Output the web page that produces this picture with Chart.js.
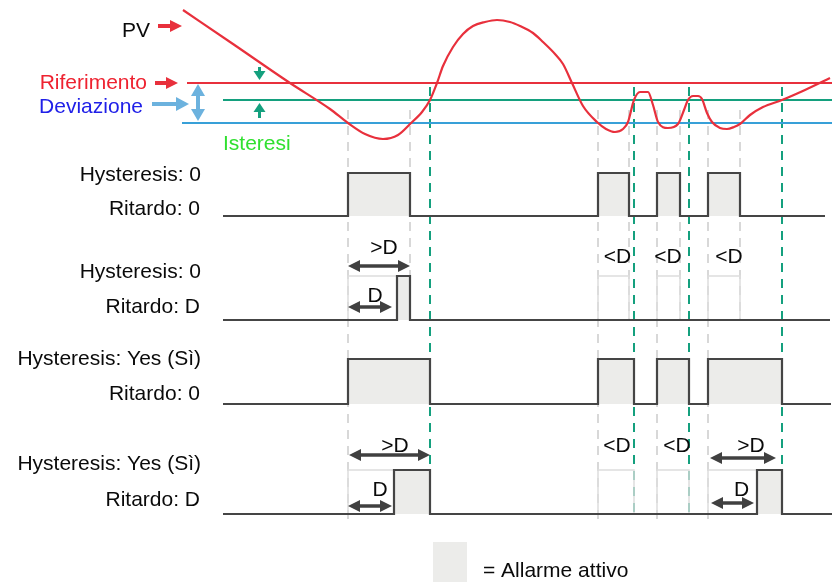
<!DOCTYPE html>
<html><head><meta charset="utf-8">
<script src="https://cdn.jsdelivr.net/npm/chart.js@4.4.1/dist/chart.umd.min.js"></script>
<style>html,body{margin:0;padding:0;background:#fff}#wrap{width:832px;height:582px;position:relative}</style>
</head><body><div id="wrap"><canvas id="c"></canvas></div>
<script>
// ---------- DATA ----------
// Process value PV (time, value)
const pvTime = [183,233,290,330,348,365,383,398,410,422,430,437,443,453,463,473,485,497,510,520,533,543,555,563,572,583,597,606,615,623,628,634,640,648,653,658,668,678,684,688,693,698,702,707,712,720,727,734,740,750,763,782,805,830];
const pvValue = [136.5,119.5,100,87,80,74.5,72,74,79.5,85.5,91.5,100,108.5,118,124.5,128.5,130.5,131.5,130.5,128.5,125,120.5,114.5,109.5,100,88.5,80.5,77,75.5,77,80.5,91.5,95.5,95.5,89,80.5,77.5,79.5,86.5,91.5,93.5,93.5,92,85,80.5,77.5,77,78,79.5,84,88,91.5,96.5,102.5];
const setpoint = 100;      // Riferimento
const deviation = 20;      // Deviazione  -> alarm threshold
const hysteresis = 11.5;   // Isteresi    -> reset threshold
// Alarm output rows: [time, state]
const rowLabels = [["Hysteresis: 0","Ritardo: 0"],["Hysteresis: 0","Ritardo: D"],["Hysteresis: Yes (Sì)","Ritardo: 0"],["Hysteresis: Yes (Sì)","Ritardo: D"]];
const alarm1 = [[223,0],[348,1],[410,0],[598,1],[629,0],[657,1],[680,0],[708,1],[740,0],[825,0]];
const alarm2 = [[223,0],[397,1],[410,0],[830,0]];
const alarm3 = [[223,0],[348,1],[430,0],[598,1],[634,0],[657,1],[689,0],[708,1],[782,0],[831,0]];
const alarm4 = [[223,0],[394,1],[430,0],[757,1],[782,0],[832,0]];
// Condition intervals not long enough to trigger delayed alarm (ghost)
const ghost2 = [[348,397],[598,629],[657,680],[708,740]];
const ghost4 = [[348,394],[598,634],[657,689],[708,757]];
// Event times
const tAlarmOn = [348,598,657,708];
const tAlarmOffNoHyst = [410,629,680,740];
const tAlarmOffHyst = [430,634,689,782];
// Delay labels: [text, time, row]
const delayLabels = [[">D",384,2],["D",375,2],["<D",617.5,2],["<D",668,2],["<D",729,2],[">D",395,4],["D",380,4],["<D",617,4],["<D",677,4],[">D",751,4],["D",741.5,4]];
const legendText = "= Allarme attivo";

// ---------- LAYOUT ----------
const rowBase = [216,320,404,514];
const rowHigh = [173,276,359,470];
const RED='#e8303c', GREEN='#14a07e', BLUE='#38a0d8', LBLUE='#6cb2de', SIG='#454545', FILL='#ececea', GHOST='#dddddd', GDASH='#d8d8d8';

function sigData(seq, r){ return seq.map(([t,s]) => ({x:t, y: rowBase[r] - s*(rowBase[r]-rowHigh[r])})); }
function ghostData(iv, r){ const out=[]; iv.forEach(([a,b])=>{ out.push({x:a,y:rowBase[r]},{x:a,y:rowHigh[r]},{x:b,y:rowHigh[r]},{x:b,y:rowBase[r]},{x:b,y:null}); }); return out; }
function vData(ts, y0, y1){ const out=[]; ts.forEach(t=>{ out.push({x:t,y:y0},{x:t,y:y1},{x:t,y:null}); }); return out; }

const alarms = [alarm1,alarm2,alarm3,alarm4];
const datasets = [];
// PV
datasets.push({data: pvTime.map((t,i)=>({x:t,y:pvValue[i]})), yAxisID:'pv', borderColor:RED, borderWidth:2.2, cubicInterpolationMode:'monotone', pointRadius:0, order:0});
// thresholds
datasets.push({data:[{x:187,y:setpoint},{x:832,y:setpoint}], yAxisID:'pv', borderColor:RED, borderWidth:2, pointRadius:0, order:2});
datasets.push({data:[{x:223,y:setpoint-deviation+hysteresis},{x:832,y:setpoint-deviation+hysteresis}], yAxisID:'pv', borderColor:GREEN, borderWidth:2, pointRadius:0, order:2});
datasets.push({data:[{x:182,y:setpoint-deviation},{x:832,y:setpoint-deviation}], yAxisID:'pv', borderColor:BLUE, borderWidth:2, pointRadius:0, order:2});
// signal lines
alarms.forEach((a,r)=>{
  datasets.push({data:sigData(a,r), yAxisID:'y', stepped:'before', borderColor:SIG, borderWidth:2.2, pointRadius:0, order:1});
  datasets.push({data:sigData(a,r), yAxisID:'y', stepped:'before', borderColor:'rgba(0,0,0,0)', borderWidth:0, backgroundColor:FILL, fill:{value:rowBase[r]}, pointRadius:0, order:20});
});
// ghosts
datasets.push({data:ghostData(ghost2,1), yAxisID:'y', borderColor:GHOST, borderWidth:1.5, pointRadius:0, spanGaps:false, order:6});
datasets.push({data:ghostData(ghost4,3), yAxisID:'y', borderColor:GHOST, borderWidth:1.5, pointRadius:0, spanGaps:false, order:6});
// dashed verticals
datasets.push({data:vData(tAlarmOn,110,521), yAxisID:'y', borderColor:GDASH, borderWidth:2, borderDash:[9,7], pointRadius:0, spanGaps:false, order:8});
datasets.push({data:vData(tAlarmOffNoHyst,110,320), yAxisID:'y', borderColor:GDASH, borderWidth:2, borderDash:[9,7], pointRadius:0, spanGaps:false, order:8});
datasets.push({data:vData(tAlarmOffHyst,87,516), yAxisID:'y', borderColor:GREEN, borderWidth:2, borderDash:[9,7], pointRadius:0, spanGaps:false, order:7});

function arrow(ctx, x1,y1,x2,y2, color, w, hl, hw, both){
  const dx=x2-x1, dy=y2-y1, L=Math.hypot(dx,dy), ux=dx/L, uy=dy/L, px=-uy, py=ux;
  ctx.save(); ctx.strokeStyle=color; ctx.fillStyle=color; ctx.lineWidth=w; ctx.lineCap='butt';
  const sx = both? x1+ux*hl*0.8 : x1, sy = both? y1+uy*hl*0.8 : y1;
  ctx.beginPath(); ctx.moveTo(sx,sy); ctx.lineTo(x2-ux*hl*0.8, y2-uy*hl*0.8); ctx.stroke();
  const head=(tx,ty,vx,vy)=>{ ctx.beginPath(); ctx.moveTo(tx,ty); ctx.lineTo(tx-vx*hl+px*hw, ty-vy*hl+py*hw); ctx.lineTo(tx-vx*hl-px*hw, ty-vy*hl-py*hw); ctx.closePath(); ctx.fill(); };
  head(x2,y2,ux,uy); if(both) head(x1,y1,-ux,-uy);
  ctx.restore();
}

const deco = {
  id:'deco',
  afterDraw(chart){
    const ctx=chart.ctx, X=v=>chart.scales.x.getPixelForValue(v), Y=v=>chart.scales.y.getPixelForValue(v);
    const F='21px "Liberation Sans", Arial, sans-serif';
    const txt=(s,x,y,c,al)=>{ ctx.fillStyle=c; ctx.textAlign=al; ctx.fillText(s,X(x),Y(y)); };
    ctx.save(); ctx.font=F; ctx.textBaseline='alphabetic';
    txt("PV",150,37,'#0a0a0a','right');
    txt("Riferimento",147,89,'#ee2230','right');
    txt("Deviazione",143,113,'#2020e8','right');
    txt("Isteresi",223,150,'#30e030','left');
    const lb=[[181,215],[278,313],[365,400],[470,506]];
    rowLabels.forEach((p,i)=>{ txt(p[0],201,lb[i][0],'#0a0a0a','right'); txt(p[1],200,lb[i][1],'#0a0a0a','right'); });
    const dy={2:{">D":254,"D":302,"<D":263},4:{">D":452,"D":496,"<D":452}};
    delayLabels.forEach(([s,t,r])=>txt(s,t,dy[r][s],'#0a0a0a','center'));
    // legend swatch
    ctx.fillStyle=FILL; ctx.fillRect(X(433),Y(542),X(467)-X(433),Y(582)-Y(542));
    txt(legendText,483,577,'#0a0a0a','left');
    ctx.restore();
    // arrows
    arrow(ctx,X(158),Y(26),X(182),Y(26),RED,4,12,6,false);
    arrow(ctx,X(155),Y(83),X(178),Y(83),RED,4,12,6,false);
    arrow(ctx,X(152),Y(104),X(189),Y(104),LBLUE,4,13,7,false);
    arrow(ctx,X(198),Y(84),X(198),Y(121),LBLUE,4,12,7,true);
    arrow(ctx,X(259.5),Y(67),X(259.5),Y(80),GREEN,3,9,6,false);
    arrow(ctx,X(259.5),Y(118),X(259.5),Y(103),GREEN,3,9,6,false);
    const D='#404040';
    arrow(ctx,X(348),Y(266),X(410),Y(266),D,3.5,12,6,true);
    arrow(ctx,X(348),Y(307),X(392),Y(307),D,3.5,12,6,true);
    arrow(ctx,X(349),Y(455),X(430),Y(455),D,3.5,12,6,true);
    arrow(ctx,X(348),Y(506),X(392),Y(506),D,3.5,12,6,true);
    arrow(ctx,X(710),Y(458),X(776),Y(458),D,3.5,12,6,true);
    arrow(ctx,X(711),Y(503),X(754),Y(503),D,3.5,12,6,true);
  }
};

new Chart(document.getElementById('c'), {
  type:'line',
  data:{datasets},
  options:{
    responsive:true, maintainAspectRatio:false, animation:false,
    layout:{padding:0},
    plugins:{legend:{display:false}, tooltip:{enabled:false}},
    events:[],
    scales:{
      x:{type:'linear', min:0, max:832, display:false},
      y:{type:'linear', min:0, max:582, reverse:true, display:false},
      pv:{type:'linear', min:-149.5, max:141.5, display:false}
    }
  },
  plugins:[deco]
});
</script></body></html>
